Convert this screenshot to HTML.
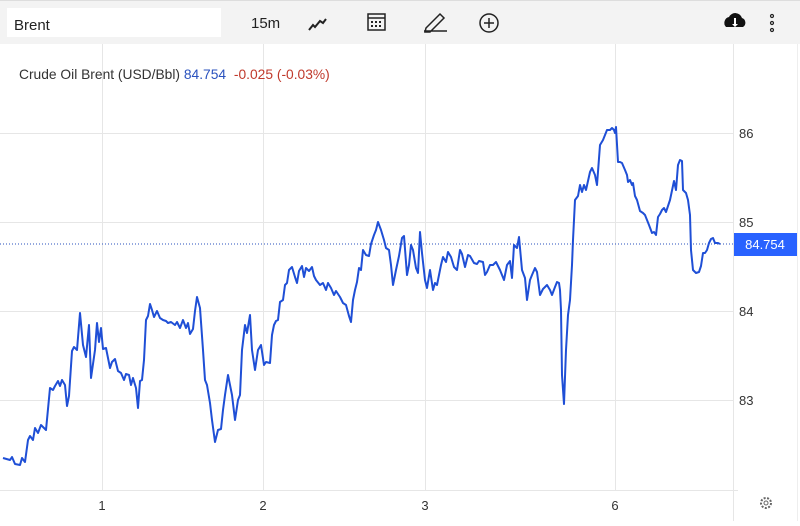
<!DOCTYPE html>
<html><head><meta charset="utf-8"><style>
body{margin:0;width:800px;height:521px;overflow:hidden;background:#fff;font-family:"Liberation Sans",sans-serif}
</style></head><body>
<svg width="800" height="521" xmlns="http://www.w3.org/2000/svg" font-family="Liberation Sans, sans-serif">
<rect x="0" y="0" width="800" height="521" fill="#fff"/>
<rect x="0" y="0" width="800" height="44" fill="#f3f3f3"/>
<rect x="0" y="0" width="800" height="1" fill="#ddd"/>
<rect x="7" y="8" width="214" height="29" fill="#fff"/>
<text x="14" y="30" font-size="15" fill="#222">Brent</text>
<text x="251" y="28" font-size="15" fill="#222">15m</text>
<polyline points="309,30 313,25 315,27 320,21 323,23 326,19" fill="none" stroke="#222" stroke-width="2"/>
<rect x="368" y="14" width="17" height="16" fill="none" stroke="#222" stroke-width="1.5"/>
<line x1="368" y1="18" x2="385" y2="18" stroke="#222" stroke-width="1.5"/>
<g fill="#222"><rect x="371" y="21" width="2" height="2"/><rect x="375" y="21" width="2" height="2"/><rect x="379" y="21" width="2" height="2"/><rect x="371" y="25" width="2" height="2"/><rect x="375" y="25" width="2" height="2"/><rect x="379" y="25" width="2" height="2"/></g>
<path d="M426,28 L440,14 L444,18 L430,32 L425,32 Z M424,31 H447" fill="none" stroke="#222" stroke-width="1.5"/>
<circle cx="489" cy="23" r="9" fill="none" stroke="#222" stroke-width="1.5"/>
<path d="M489,18 V28 M484,23 H494" stroke="#222" stroke-width="1.5"/>
<path d="M726,27 a6,6 0 0 1 3,-10 a7,7 0 0 1 13,1 a5,5 0 0 1 1,9 z" fill="#111"/>
<path d="M734,18 v6 h-2 l3,3 l3,-3 h-2 v-6z" fill="#fff"/>
<g fill="none" stroke="#222" stroke-width="1.2"><circle cx="772" cy="16" r="1.5"/><circle cx="772" cy="23" r="1.5"/><circle cx="772" cy="30" r="1.5"/></g>
<g stroke="#e6e6e6" stroke-width="1">
<line x1="0" y1="133.5" x2="733" y2="133.5"/><line x1="0" y1="222.5" x2="733" y2="222.5"/><line x1="0" y1="311.5" x2="733" y2="311.5"/><line x1="0" y1="400.5" x2="733" y2="400.5"/>
<line x1="102.5" y1="44" x2="102.5" y2="490"/><line x1="263.5" y1="44" x2="263.5" y2="490"/><line x1="425.5" y1="44" x2="425.5" y2="490"/><line x1="615.5" y1="44" x2="615.5" y2="490"/>
<line x1="733.5" y1="44" x2="733.5" y2="521"/><line x1="0" y1="490.5" x2="738" y2="490.5"/>
<line x1="797.5" y1="44" x2="797.5" y2="521" stroke="#eee"/>
</g>
<text x="19" y="79" font-size="13.8" fill="#333">Crude Oil Brent (USD/Bbl) <tspan fill="#2a52be">84.754</tspan>  <tspan fill="#c0392b" dx="4">-0.025 (-0.03%)</tspan></text>
<line x1="0" y1="244" x2="733" y2="244" stroke="#2a52be" stroke-width="1" stroke-dasharray="1,2"/>
<polyline fill="none" stroke="#1f4fd6" stroke-width="2" stroke-linejoin="round" points="3,458 10,460 12,457 15,464 20,465 22,458 25,462 28,440 30,436 33,440 35,428 38,433 41,425 46,430 50,388 53,390 55,386 58,381 60,386 62,380 65,385 67,406 69,396 72,351 74,347 77,350 80,313 83,345 86,357 89,325 91,378 95,350 97,323 99,342 101,328 103,349 106,348 110,368 112,362 115,359 118,371 121,373 124,380 126,374 129,375 131,385 133,378 136,388 138,408 140,381 142,380 144,360 146,320 148,316 150,304 152,310 154,317 157,311 160,318 163,320 166,321 168,323 171,322 175,325 177,322 180,328 183,320 186,328 188,323 190,334 193,329 195,311 197,297 200,308 203,350 205,380 207,385 210,403 212,420 215,442 218,430 221,429 223,410 225,395 228,375 230,385 232,395 235,420 238,400 240,395 242,350 245,325 247,333 250,315 252,350 255,370 258,350 261,345 264,365 266,362 270,363 272,335 274,325 276,321 278,320 280,302 283,300 285,285 287,283 289,270 292,267 295,277 297,283 299,271 302,266 304,277 306,268 309,271 312,267 314,276 316,280 320,285 323,283 326,290 328,283 331,288 334,295 336,291 340,297 343,303 346,305 349,316 351,322 353,300 355,290 357,282 359,268 361,270 363,250 366,255 369,256 371,244 374,235 376,230 378,222 381,230 384,240 386,248 389,250 391,265 393,285 396,270 399,256 402,238 404,236 407,275 409,265 411,245 413,250 416,268 418,273 420,232 422,253 425,280 427,288 430,270 433,290 435,283 437,285 441,265 443,257 446,262 448,252 451,257 454,267 457,270 460,250 462,254 465,267 468,255 470,256 474,263 477,264 479,261 483,262 485,275 487,272 490,265 493,265 496,262 500,270 504,280 507,265 510,261 512,278 514,245 517,248 519,237 522,270 525,278 527,300 530,280 532,275 535,268 537,272 540,295 543,289 547,285 550,290 552,295 555,287 557,282 559,283 560,290 561,310 562,375 564,404 566,350 568,315 570,300 572,265 573,240 575,200 578,196 580,185 582,192 584,185 586,190 590,172 592,168 595,175 597,185 600,145 603,140 605,135 607,130 610,130 612,128 614,130 615,133 616,127 618,162 620,162 622,163 625,170 627,175 628,182 630,180 632,185 633,183 635,196 637,200 640,211 643,213 645,215 647,220 649,225 652,233 654,232 656,235 658,217 660,214 662,210 664,208 666,212 668,206 670,200 674,181 676,190 678,165 680,160 682,161 683,190 686,193 688,200 690,215 691,250 693,270 696,273 699,272 701,266 703,253 705,253 707,250 709,243 711,239 713,238 715,243 718,243 720,244"/>
<g font-size="13" fill="#333">
<text x="739" y="138">86</text><text x="739" y="227">85</text><text x="739" y="316">84</text><text x="739" y="405">83</text>
<text x="102" y="510" text-anchor="middle">1</text><text x="263" y="510" text-anchor="middle">2</text><text x="425" y="510" text-anchor="middle">3</text><text x="615" y="510" text-anchor="middle">6</text>
</g>
<rect x="734" y="233" width="63" height="23" fill="#2962ff"/>
<text x="765" y="249" font-size="13" fill="#fff" text-anchor="middle">84.754</text>
<circle cx="766" cy="503" r="5" fill="none" stroke="#666" stroke-width="2" stroke-dasharray="2,1.5"/>
<circle cx="766" cy="503" r="2" fill="none" stroke="#666" stroke-width="1"/>
</svg>
</body></html>
